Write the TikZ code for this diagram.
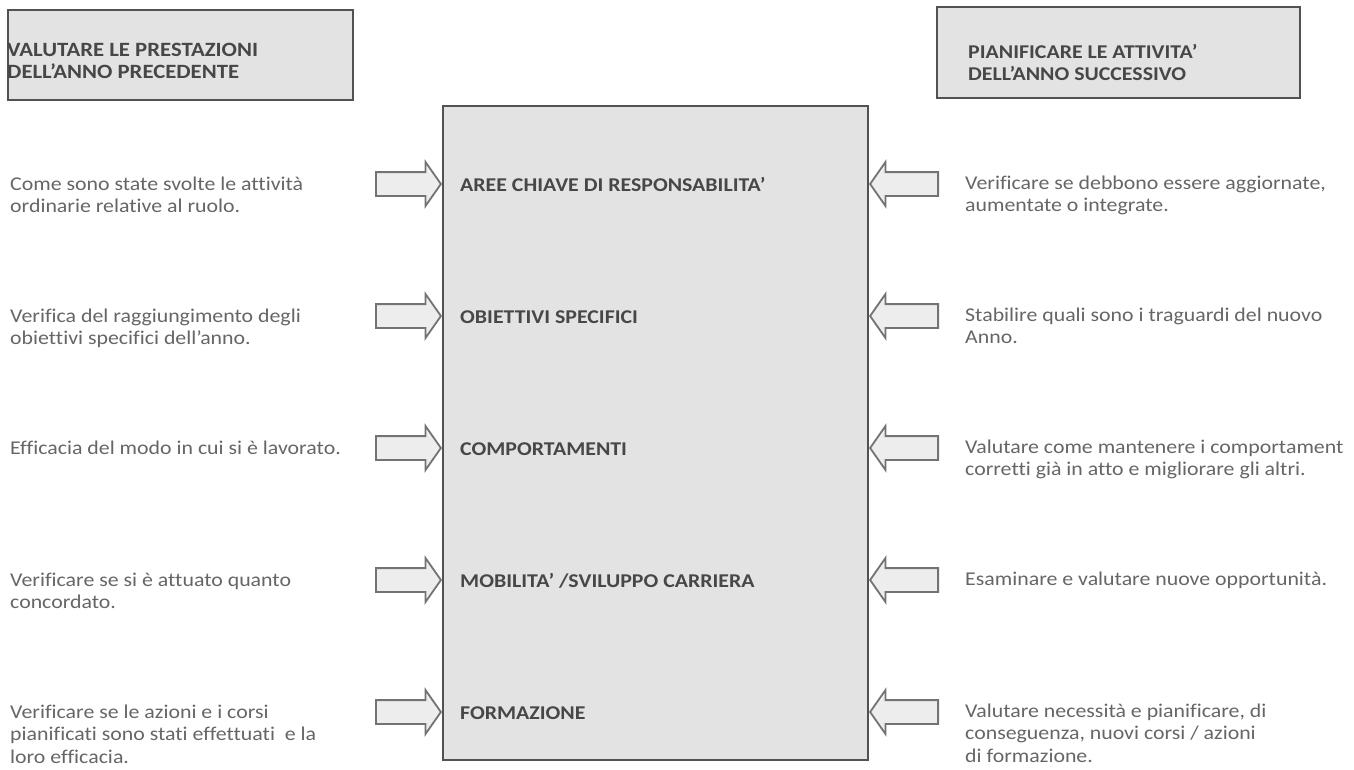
\documentclass[tikz,border=0pt]{standalone}
\usepackage{fontspec}
\setmainfont{Carlito}[FakeStretch=1.12,Ligatures=NoCommon]
\usetikzlibrary{shapes.arrows}
\definecolor{txt}{gray}{0.40}
\definecolor{hd}{gray}{0.28}
\definecolor{fillg}{gray}{0.89}
\definecolor{edge}{gray}{0.32}
\definecolor{arrfill}{gray}{0.93}
\definecolor{arredge}{gray}{0.45}
\newcommand\blk[1]{\parbox[t]{500pt}{\raggedright #1}}
\begin{document}
\begin{tikzpicture}[x=1pt,y=-1pt,
  body/.style={anchor=base west, inner sep=0pt, text=txt, font=\fontsize{19.5}{22.5}\selectfont},
  head/.style={anchor=base west, inner sep=0pt, text=hd, font=\fontsize{19.5}{22}\selectfont\bfseries},
  panel/.style={draw=edge, line width=2pt, fill=fillg, inner sep=0pt},
  rarrow/.style={single arrow, draw=arredge, line width=1.8pt, fill=arrfill,
    minimum height=65pt, minimum width=42pt, single arrow head extend=10pt,
    single arrow tip angle=110, inner xsep=0pt, inner ysep=11pt, anchor=tip},
  larrow/.style={rarrow, shape border rotate=180, minimum height=68pt}]
\useasboundingbox (0,0) rectangle (1354,769);
\fill[white] (0,0) rectangle (1354,769);

% top boxes
\node[panel, minimum width=345pt, minimum height=90pt] (tlbox) at (180.5,55) {};
\node[head, font=\fontsize{20.3}{22}\selectfont\bfseries] (tltext) at (7,56) {\blk{VALUTARE LE PRESTAZIONI\\DELL’ANNO PRECEDENTE}};
\node[panel, minimum width=363pt, minimum height=91pt] (trbox) at (1118.5,52.5) {};
\node[head] (trtext) at (968,58) {\blk{PIANIFICARE LE ATTIVITA’\\DELL’ANNO SUCCESSIVO}};

% central box
\node[panel, line width=2.5pt, minimum width=425pt, minimum height=654pt] (center) at (655.5,433) {};

% central labels
\node[head] (c1) at (460,191) {AREE CHIAVE DI RESPONSABILITA’};
\node[head] (c2) at (460,323) {OBIETTIVI SPECIFICI};
\node[head] (c3) at (460,455) {COMPORTAMENTI};
\node[head] (c4) at (460,587) {MOBILITA’ /SVILUPPO CARRIERA};
\node[head] (c5) at (460,719) {FORMAZIONE};

% block arrows
\foreach \i/\y in {1/184,2/316,3/448,4/580,5/712}{
  \node[rarrow] (la\i) at (442,\y) {};
  \node[larrow] (ra\i) at (869,\y) {};
}

% left texts
\node[body] (l1) at (10,190) {\blk{Come sono state svolte le attività\\ordinarie relative al ruolo.}};
\node[body] (l2) at (10,322) {\blk{Verifica del raggiungimento degli\\obiettivi specifici dell’anno.}};
\node[body] (l3) at (10,454) {\blk{Efficacia del modo in cui si è lavorato.}};
\node[body] (l4) at (10,586) {\blk{Verificare se si è attuato quanto\\concordato.}};
\node[body] (l5) at (10,718) {\blk{Verificare se le azioni e i corsi\\pianificati sono stati effettuati\ \ e la\\loro efficacia.}};

% right texts
\node[body] (r1) at (965,189) {\blk{Verificare se debbono essere aggiornate,\\aumentate o integrate.}};
\node[body] (r2) at (965,321) {\blk{Stabilire quali sono i traguardi del nuovo\\Anno.}};
\node[body] (r3) at (965,453) {\blk{Valutare come mantenere i comportament\\corretti già in atto e migliorare gli altri.}};
\node[body] (r4) at (965,585) {\blk{Esaminare e valutare nuove opportunità.}};
\node[body] (r5) at (965,717) {\blk{Valutare necessità e pianificare, di\\conseguenza, nuovi corsi / azioni\\di formazione.}};
\end{tikzpicture}
\end{document}
